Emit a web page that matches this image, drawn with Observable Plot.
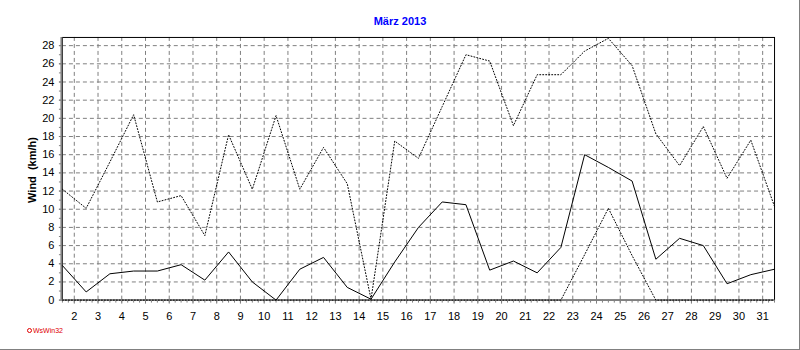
<!DOCTYPE html>
<html>
<head>
<meta charset="utf-8">
<script src="https://cdn.jsdelivr.net/npm/d3@7"></script>
<script src="https://cdn.jsdelivr.net/npm/@observablehq/plot@0.6"></script>
<style>
  html, body { margin: 0; padding: 0; background: #fff; }
  #wrap { position: relative; width: 799px; height: 349px; border-right: 1px solid #808080; border-bottom: 1px solid #808080; overflow: hidden; font-family: "Liberation Sans", Arial, sans-serif; }
  #wrap svg { position: absolute; left: 0; top: 0; }
  #title { position: absolute; left: 0; width: 800px; top: 15px; text-align: center; color: #0000ff; font-weight: bold; font-size: 11px; line-height: 13px; }
  #ylab { position: absolute; left: 32px; top: 170px; transform: translate(-50%, -50%) rotate(-90deg); font-weight: bold; font-size: 11px; white-space: pre; color: #000; }
  #foot { position: absolute; left: 27px; top: 326px; color: #e00000; font-size: 7px; line-height: 9px; white-space: nowrap; }
  #foot .ic { display: inline-block; width: 3px; height: 3px; border: 1px solid #e00000; border-radius: 50%; margin-right: 1px; vertical-align: 0px; }
</style>
</head>
<body>
<div id="wrap">
  <div id="title">März 2013</div>
  <div id="ylab">Wind  (km/h)</div>
  <div id="foot"><span class="ic"></span>WsWin32</div>
</div>
<script>
// Days of March 2013
const days = d3.range(1, 32);
// Mean wind (km/h), solid line
const windMean = [3.8, 0.9, 2.9, 3.2, 3.2, 3.9, 2.2, 5.3, 2.0, 0.0, 3.4, 4.7, 1.4, 0.1, 4.2, 8.0,
                  10.8, 10.5, 3.3, 4.3, 3.0, 5.8, 16.0, 14.6, 13.1, 4.5, 6.8, 6.0, 1.8, 2.8, 3.4];
// Maximum wind (km/h), dotted line
const windMax = [12.2, 10.1, 15.2, 20.4, 10.8, 11.5, 7.1, 18.2, 12.2, 20.3, 12.2, 16.8, 12.8, 0.1, 17.5, 15.6,
                 21.3, 27.0, 26.3, 19.2, 24.8, 24.8, 27.4, 28.8, 25.8, 18.3, 14.8, 19.1, 13.4, 17.6, 10.3];
// Minimum wind (km/h), dotted line
const windMin = [0, 0, 0, 0, 0, 0, 0, 0, 0, 0, 0, 0, 0, 0, 0, 0,
                 0, 0, 0, 0, 0, 0, 5.0, 10.1, 4.9, 0, 0, 0, 0, 0, 0];
// Tick labels
const xTickLabels = d3.range(2, 32);
const yTickLabels = d3.range(0, 29, 2);
const xMinorTicks = d3.range(1.5, 31.51, 0.25);
const yMinorTicks = d3.range(0, 29, 1);

const xDomain = [1.5, 31.5];
const yDomain = [0, 28.9];

const rows = days.map((d, i) => ({pos: d + 0.5, mean: windMean[i], max: windMax[i], min: windMin[i]}));

const chart = Plot.plot({
  width: 800,
  height: 350,
  marginLeft: 62,
  marginRight: 25,
  marginTop: 37,
  marginBottom: 50,
  style: {fontFamily: "'Liberation Sans', Arial, sans-serif", fontSize: "11px", color: "#000", background: "transparent"},
  x: {domain: xDomain, axis: null},
  y: {domain: yDomain, axis: null},
  marks: [
    Plot.gridX(xTickLabels, {stroke: "#808080", strokeOpacity: 1, strokeDasharray: "4,3"}),
    Plot.gridY(yTickLabels.filter(v => v > 0), {stroke: "#808080", strokeOpacity: 1, strokeDasharray: "4,3"}),
    Plot.frame({stroke: "#000"}),
    Plot.axisX({ticks: xMinorTicks, tickSize: 3, tickFormat: () => "", stroke: "#808080", label: null}),
    Plot.axisX({ticks: xTickLabels, tickSize: 4, tickPadding: 8, tickFormat: d => String(d), fill: "#000", stroke: "#808080", fontSize: 11, label: null}),
    Plot.axisY({ticks: yMinorTicks, tickSize: 3, tickFormat: () => "", stroke: "#808080", label: null}),
    Plot.axisY({ticks: yTickLabels, tickSize: 3, tickPadding: 5, tickFormat: d => String(d), fill: "#000", stroke: "#808080", fontSize: 11, label: null}),
    Plot.ruleX([xDomain[0]], {stroke: "#808080", strokeWidth: 2, dx: -1}),
    Plot.ruleY([yDomain[0]], {stroke: "#808080", strokeWidth: 2}),
    Plot.line(rows, {x: "pos", y: "min", stroke: "#000", strokeWidth: 1, strokeDasharray: "1,2", shapeRendering: "crispEdges"}),
    Plot.line(rows, {x: "pos", y: "max", stroke: "#000", strokeWidth: 1, strokeDasharray: "1,2", shapeRendering: "crispEdges"}),
    Plot.line(rows, {x: "pos", y: "mean", stroke: "#000", strokeWidth: 1, shapeRendering: "crispEdges"})
  ]
});
document.getElementById("wrap").prepend(chart);
</script>
</body>
</html>
